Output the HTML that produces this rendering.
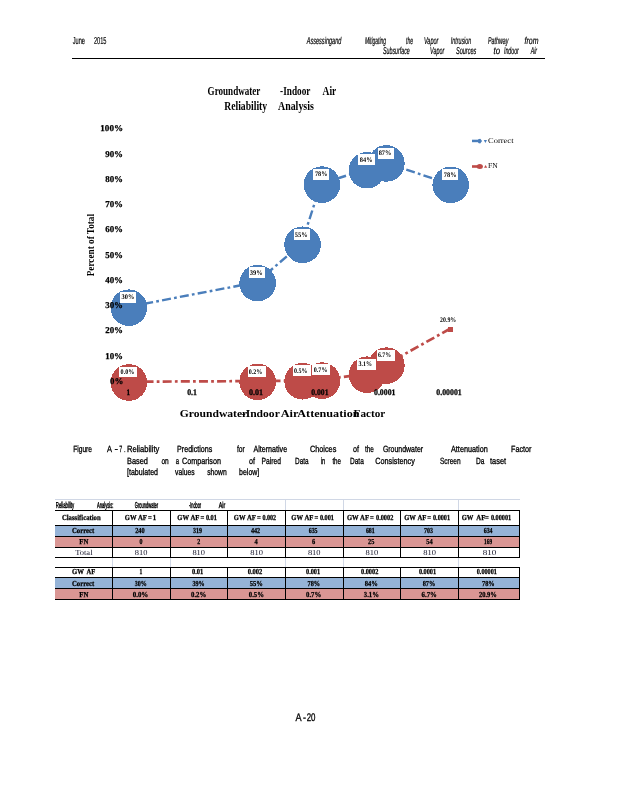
<!DOCTYPE html>
<html lang="en">
<head>
<meta charset="utf-8">
<title>A-20 Groundwater-Indoor Air Reliability Analysis</title>
<style>
html,body{margin:0;padding:0;background:#fff;}
body{width:618px;height:800px;overflow:hidden;}
svg{display:block;}
text{white-space:pre;}
.s,.si,.sb{text-rendering:geometricPrecision;}
.s{font-family:"Liberation Sans", sans-serif;}
.si{font-family:"Liberation Sans", sans-serif;font-style:italic;}
.sb{font-family:"Liberation Sans", sans-serif;font-weight:bold;}
.r{font-family:"Liberation Serif", serif;}
.rb{font-family:"Liberation Serif", serif;font-weight:bold;}
.ri{font-family:"Liberation Serif", serif;font-style:italic;}
</style>
</head>
<body>
<svg width="618" height="800" viewBox="0 0 618 800">
<rect x="0" y="0" width="618" height="800" fill="#fff"/>
<text class="s" x="72.8" y="44.3" font-size="10" textLength="12.2" lengthAdjust="spacingAndGlyphs" stroke="#000" stroke-width="0.2">June</text>
<text class="s" x="94.0" y="44.3" font-size="10" textLength="12.5" lengthAdjust="spacingAndGlyphs" stroke="#000" stroke-width="0.2">2015</text>
<text class="si" x="306.7" y="44.3" font-size="10" textLength="34.7" lengthAdjust="spacingAndGlyphs" stroke="#000" stroke-width="0.2">Assessingand</text>
<text class="si" x="364.9" y="44.3" font-size="10" textLength="21.2" lengthAdjust="spacingAndGlyphs" stroke="#000" stroke-width="0.2">Mitigating</text>
<text class="si" x="406.0" y="44.3" font-size="10" textLength="7.0" lengthAdjust="spacingAndGlyphs" stroke="#000" stroke-width="0.2">the</text>
<text class="si" x="423.9" y="44.3" font-size="10" textLength="14.5" lengthAdjust="spacingAndGlyphs" stroke="#000" stroke-width="0.2">Vapor</text>
<text class="si" x="450.8" y="44.3" font-size="10" textLength="20.3" lengthAdjust="spacingAndGlyphs" stroke="#000" stroke-width="0.2">Intrusion</text>
<text class="si" x="488.0" y="44.3" font-size="10" textLength="20.5" lengthAdjust="spacingAndGlyphs" stroke="#000" stroke-width="0.2">Pathway</text>
<text class="si" x="524.6" y="44.3" font-size="10" textLength="13.9" lengthAdjust="spacingAndGlyphs" stroke="#000" stroke-width="0.2">from</text>
<text class="si" x="383.0" y="53.9" font-size="10" textLength="26.8" lengthAdjust="spacingAndGlyphs" stroke="#000" stroke-width="0.2">Subsurface</text>
<text class="si" x="430.1" y="53.9" font-size="10" textLength="14.2" lengthAdjust="spacingAndGlyphs" stroke="#000" stroke-width="0.2">Vapor</text>
<text class="si" x="456.0" y="53.9" font-size="10" textLength="20.3" lengthAdjust="spacingAndGlyphs" stroke="#000" stroke-width="0.2">Sources</text>
<text class="si" x="493.5" y="53.9" font-size="10" textLength="6.5" lengthAdjust="spacingAndGlyphs" stroke="#000" stroke-width="0.2">to</text>
<text class="si" x="504.0" y="53.9" font-size="10" textLength="14.8" lengthAdjust="spacingAndGlyphs" stroke="#000" stroke-width="0.2">Indoor</text>
<text class="si" x="530.7" y="53.9" font-size="10" textLength="6.3" lengthAdjust="spacingAndGlyphs" stroke="#000" stroke-width="0.2">Air</text>
<rect x="72.0" y="58.00" width="473.0" height="1" fill="#000"/>
<text class="rb" x="207.6" y="94.6" font-size="11.5" textLength="52.8" lengthAdjust="spacingAndGlyphs">Groundwater</text>
<text class="rb" x="280.1" y="94.6" font-size="11.5" textLength="30.3" lengthAdjust="spacingAndGlyphs">-Indoor</text>
<text class="rb" x="322.6" y="94.6" font-size="11.5" textLength="13.7" lengthAdjust="spacingAndGlyphs">Air</text>
<text class="rb" x="224.2" y="109.7" font-size="11.5" textLength="43.0" lengthAdjust="spacingAndGlyphs">Reliability</text>
<text class="rb" x="278.0" y="109.7" font-size="11.5" textLength="35.8" lengthAdjust="spacingAndGlyphs">Analysis</text>
<polyline points="127.8,306.9 256.5,282.3 301.5,243.9 320.9,183.8 365.9,169.4 385.3,162.6 449.6,184.1" fill="none" stroke="#4a7ebb" stroke-width="2.4" stroke-dasharray="9 3.2 2.74 3.2" stroke-dashoffset="1.4"/>
<g shape-rendering="crispEdges">
<circle cx="128.85" cy="307.70" r="18.3" fill="#4a7ebb"/>
<circle cx="257.61" cy="283.07" r="18.3" fill="#4a7ebb"/>
<circle cx="302.61" cy="244.74" r="18.3" fill="#4a7ebb"/>
<circle cx="321.99" cy="184.58" r="18.3" fill="#4a7ebb"/>
<circle cx="366.99" cy="170.25" r="18.3" fill="#4a7ebb"/>
<circle cx="386.37" cy="163.39" r="18.3" fill="#4a7ebb"/>
<circle cx="450.75" cy="184.90" r="18.3" fill="#4a7ebb"/>
</g>
<polyline points="127.8,381.7 256.5,381.1 301.5,380.5 320.9,379.8 365.9,373.9 385.3,364.9 449.6,329.0" fill="none" stroke="#be4b48" stroke-width="2.7" stroke-dasharray="9 3.2 2.74 3.2" stroke-dashoffset="1.4"/>
<g shape-rendering="crispEdges">
<circle cx="128.85" cy="382.50" r="18.3" fill="#be4b48"/>
<circle cx="257.61" cy="381.88" r="18.3" fill="#be4b48"/>
<circle cx="302.61" cy="381.25" r="18.3" fill="#be4b48"/>
<circle cx="321.99" cy="380.63" r="18.3" fill="#be4b48"/>
<circle cx="366.99" cy="374.71" r="18.3" fill="#be4b48"/>
<circle cx="386.37" cy="365.67" r="18.3" fill="#be4b48"/>
<rect x="448" y="327" width="5" height="5" fill="#be4b48"/>
</g>
<text class="rb" x="100.3" y="130.9" font-size="9" textLength="22.7" lengthAdjust="spacingAndGlyphs" stroke="#000" stroke-width="0.25" text-rendering="geometricPrecision">100%</text>
<text class="rb" x="105.2" y="157.0" font-size="9" textLength="17.8" lengthAdjust="spacingAndGlyphs" stroke="#000" stroke-width="0.25" text-rendering="geometricPrecision">90%</text>
<text class="rb" x="105.2" y="182.0" font-size="9" textLength="17.8" lengthAdjust="spacingAndGlyphs" stroke="#000" stroke-width="0.25" text-rendering="geometricPrecision">80%</text>
<text class="rb" x="105.2" y="207.2" font-size="9" textLength="17.8" lengthAdjust="spacingAndGlyphs" stroke="#000" stroke-width="0.25" text-rendering="geometricPrecision">70%</text>
<text class="rb" x="105.2" y="232.0" font-size="9" textLength="17.8" lengthAdjust="spacingAndGlyphs" stroke="#000" stroke-width="0.25" text-rendering="geometricPrecision">60%</text>
<text class="rb" x="105.2" y="257.6" font-size="9" textLength="17.8" lengthAdjust="spacingAndGlyphs" stroke="#000" stroke-width="0.25" text-rendering="geometricPrecision">50%</text>
<text class="rb" x="105.2" y="282.6" font-size="9" textLength="17.8" lengthAdjust="spacingAndGlyphs" stroke="#000" stroke-width="0.25" text-rendering="geometricPrecision">40%</text>
<text class="rb" x="105.2" y="308.0" font-size="9" textLength="17.8" lengthAdjust="spacingAndGlyphs" stroke="#000" stroke-width="0.25" text-rendering="geometricPrecision">30%</text>
<text class="rb" x="105.2" y="333.0" font-size="9" textLength="17.8" lengthAdjust="spacingAndGlyphs" stroke="#000" stroke-width="0.25" text-rendering="geometricPrecision">20%</text>
<text class="rb" x="105.2" y="358.7" font-size="9" textLength="17.8" lengthAdjust="spacingAndGlyphs" stroke="#000" stroke-width="0.25" text-rendering="geometricPrecision">10%</text>
<text class="rb" x="110.1" y="384.0" font-size="9" textLength="13.3" lengthAdjust="spacingAndGlyphs" stroke="#000" stroke-width="0.25" text-rendering="geometricPrecision">0%</text>
<text class="rb" x="126.6" y="394.7" font-size="8.5" textLength="3.6" lengthAdjust="spacingAndGlyphs" stroke="#000" stroke-width="0.25" text-rendering="geometricPrecision">1</text>
<text class="rb" x="187.2" y="394.7" font-size="8.5" textLength="9.8" lengthAdjust="spacingAndGlyphs" stroke="#000" stroke-width="0.25" text-rendering="geometricPrecision">0.1</text>
<text class="rb" x="249.0" y="394.7" font-size="8.5" textLength="14.0" lengthAdjust="spacingAndGlyphs" stroke="#000" stroke-width="0.25" text-rendering="geometricPrecision">0.01</text>
<text class="rb" x="311.2" y="394.7" font-size="8.5" textLength="17.4" lengthAdjust="spacingAndGlyphs" stroke="#000" stroke-width="0.25" text-rendering="geometricPrecision">0.001</text>
<text class="rb" x="374.0" y="394.7" font-size="8.5" textLength="21.5" lengthAdjust="spacingAndGlyphs" stroke="#000" stroke-width="0.25" text-rendering="geometricPrecision">0.0001</text>
<text class="rb" x="436.3" y="394.7" font-size="8.5" textLength="25.4" lengthAdjust="spacingAndGlyphs" stroke="#000" stroke-width="0.25" text-rendering="geometricPrecision">0.00001</text>
<rect x="120.0" y="292.0" width="16.0" height="11.0" fill="#fff"/>
<text class="rb" x="121.6" y="299.0" font-size="7" textLength="12.7" lengthAdjust="spacingAndGlyphs" text-rendering="geometricPrecision">30%</text>
<rect x="249.0" y="267.0" width="16.0" height="11.0" fill="#fff"/>
<text class="rb" x="249.7" y="275.0" font-size="7" textLength="12.9" lengthAdjust="spacingAndGlyphs" text-rendering="geometricPrecision">39%</text>
<rect x="294.0" y="229.0" width="16.0" height="11.0" fill="#fff"/>
<text class="rb" x="294.7" y="236.8" font-size="7" textLength="12.9" lengthAdjust="spacingAndGlyphs" text-rendering="geometricPrecision">55%</text>
<rect x="313.0" y="169.0" width="16.0" height="11.0" fill="#fff"/>
<text class="rb" x="314.9" y="176.2" font-size="7" textLength="12.5" lengthAdjust="spacingAndGlyphs" text-rendering="geometricPrecision">78%</text>
<rect x="358.0" y="154.0" width="17.0" height="11.0" fill="#fff"/>
<text class="rb" x="359.8" y="161.8" font-size="7" textLength="12.7" lengthAdjust="spacingAndGlyphs" text-rendering="geometricPrecision">84%</text>
<rect x="378.0" y="148.0" width="16.0" height="11.0" fill="#fff"/>
<text class="rb" x="378.7" y="154.8" font-size="7" textLength="12.7" lengthAdjust="spacingAndGlyphs" text-rendering="geometricPrecision">87%</text>
<rect x="442.0" y="169.0" width="16.0" height="11.0" fill="#fff"/>
<text class="rb" x="443.8" y="176.8" font-size="7" textLength="12.7" lengthAdjust="spacingAndGlyphs" text-rendering="geometricPrecision">78%</text>
<rect x="119.0" y="367.0" width="18.0" height="10.0" fill="#fff"/>
<text class="rb" x="120.6" y="373.8" font-size="7" textLength="13.8" lengthAdjust="spacingAndGlyphs" text-rendering="geometricPrecision">0.0%</text>
<rect x="248.0" y="366.0" width="18.0" height="11.0" fill="#fff"/>
<text class="rb" x="248.8" y="374.1" font-size="7" textLength="13.6" lengthAdjust="spacingAndGlyphs" text-rendering="geometricPrecision">0.2%</text>
<rect x="293.0" y="365.0" width="18.0" height="11.0" fill="#fff"/>
<text class="rb" x="293.9" y="373.0" font-size="7" textLength="13.5" lengthAdjust="spacingAndGlyphs" text-rendering="geometricPrecision">0.5%</text>
<rect x="312.0" y="364.0" width="18.0" height="11.0" fill="#fff"/>
<text class="rb" x="313.8" y="372.0" font-size="7" textLength="13.7" lengthAdjust="spacingAndGlyphs" text-rendering="geometricPrecision">0.7%</text>
<rect x="357.0" y="359.0" width="19.0" height="11.0" fill="#fff"/>
<text class="rb" x="358.6" y="365.9" font-size="7" textLength="13.5" lengthAdjust="spacingAndGlyphs" text-rendering="geometricPrecision">3.1%</text>
<rect x="377.0" y="350.0" width="18.0" height="11.0" fill="#fff"/>
<text class="rb" x="378.0" y="357.1" font-size="7" textLength="13.1" lengthAdjust="spacingAndGlyphs" text-rendering="geometricPrecision">6.7%</text>
<text class="rb" x="440.1" y="322.0" font-size="7" textLength="16.1" lengthAdjust="spacingAndGlyphs" text-rendering="geometricPrecision">20.9%</text>
<rect x="472" y="139.7" width="9" height="2.5" fill="#4a7ebb"/>
<path d="M478.2 139.3 L480.2 138.8 L482.1 141 L480.2 143.5 L478.2 142.9 Z" fill="#4a7ebb"/>
<path d="M483.8 140 L487 140 L485.4 143 Z" fill="#4a7ebb"/>
<text class="r" x="488.1" y="143.0" font-size="7.6" textLength="25.4" lengthAdjust="spacingAndGlyphs" text-rendering="geometricPrecision">Correct</text>
<rect x="472" y="165.2" width="9" height="2.6" fill="#be4b48"/>
<ellipse cx="479.8" cy="166.5" rx="3.1" ry="2.5" fill="#be4b48"/>
<path d="M484 167.8 L487.2 167.8 L485.6 164.9 Z" fill="#be4b48"/>
<text class="r" x="488.1" y="167.9" font-size="7.6" textLength="9.6" lengthAdjust="spacingAndGlyphs" text-rendering="geometricPrecision">FN</text>
<text class="rb" font-size="11" transform="translate(94.3 276.3) rotate(-90)" textLength="62.3" lengthAdjust="spacingAndGlyphs">Percent of Total</text>
<text class="rb" x="179.7" y="416.5" font-size="11" textLength="67.6" lengthAdjust="spacingAndGlyphs">Groundwater</text>
<text class="rb" x="241.8" y="416.5" font-size="11" textLength="38.0" lengthAdjust="spacingAndGlyphs">-Indoor</text>
<text class="rb" x="280.7" y="416.5" font-size="11" textLength="17.8" lengthAdjust="spacingAndGlyphs">Air</text>
<text class="rb" x="297.3" y="416.5" font-size="11" textLength="62.2" lengthAdjust="spacingAndGlyphs">Attenuation</text>
<text class="rb" x="353.6" y="416.5" font-size="11" textLength="31.7" lengthAdjust="spacingAndGlyphs">Factor</text>
<text class="s" x="73.2" y="451.9" font-size="9" textLength="18.8" lengthAdjust="spacingAndGlyphs" stroke="#000" stroke-width="0.3">Figure</text>
<text class="s" x="107.1" y="451.9" font-size="9" textLength="5.0" lengthAdjust="spacingAndGlyphs" stroke="#000" stroke-width="0.3">A</text>
<text class="s" x="114.6" y="451.9" font-size="9" textLength="3.5" lengthAdjust="spacingAndGlyphs" stroke="#000" stroke-width="0.3">-</text>
<text class="s" x="119.2" y="451.9" font-size="9" textLength="3.0" lengthAdjust="spacingAndGlyphs" stroke="#000" stroke-width="0.3">7</text>
<text class="s" x="124.2" y="451.9" font-size="9" textLength="1.2" lengthAdjust="spacingAndGlyphs" stroke="#000" stroke-width="0.3">.</text>
<text class="s" x="127.0" y="451.9" font-size="9" textLength="32.3" lengthAdjust="spacingAndGlyphs" stroke="#000" stroke-width="0.3">Reliability</text>
<text class="s" x="177.1" y="451.9" font-size="9" textLength="35.1" lengthAdjust="spacingAndGlyphs" stroke="#000" stroke-width="0.3">Predictions</text>
<text class="s" x="237.0" y="451.9" font-size="9" textLength="7.8" lengthAdjust="spacingAndGlyphs" stroke="#000" stroke-width="0.3">for</text>
<text class="s" x="253.5" y="451.9" font-size="9" textLength="33.6" lengthAdjust="spacingAndGlyphs" stroke="#000" stroke-width="0.3">Alternative</text>
<text class="s" x="309.9" y="451.9" font-size="9" textLength="26.4" lengthAdjust="spacingAndGlyphs" stroke="#000" stroke-width="0.3">Choices</text>
<text class="s" x="353.1" y="451.9" font-size="9" textLength="6.0" lengthAdjust="spacingAndGlyphs" stroke="#000" stroke-width="0.3">of</text>
<text class="s" x="365.0" y="451.9" font-size="9" textLength="8.9" lengthAdjust="spacingAndGlyphs" stroke="#000" stroke-width="0.3">the</text>
<text class="s" x="382.9" y="451.9" font-size="9" textLength="40.2" lengthAdjust="spacingAndGlyphs" stroke="#000" stroke-width="0.3">Groundwater</text>
<text class="s" x="451.0" y="451.9" font-size="9" textLength="36.8" lengthAdjust="spacingAndGlyphs" stroke="#000" stroke-width="0.3">Attenuation</text>
<text class="s" x="511.1" y="451.9" font-size="9" textLength="20.4" lengthAdjust="spacingAndGlyphs" stroke="#000" stroke-width="0.3">Factor</text>
<text class="s" x="127.0" y="463.6" font-size="9" textLength="21.0" lengthAdjust="spacingAndGlyphs" stroke="#000" stroke-width="0.3">Based</text>
<text class="s" x="161.4" y="463.6" font-size="9" textLength="7.3" lengthAdjust="spacingAndGlyphs" stroke="#000" stroke-width="0.3">on</text>
<text class="s" x="175.7" y="463.6" font-size="9" textLength="3.3" lengthAdjust="spacingAndGlyphs" stroke="#000" stroke-width="0.3">a</text>
<text class="s" x="182.1" y="463.6" font-size="9" textLength="38.9" lengthAdjust="spacingAndGlyphs" stroke="#000" stroke-width="0.3">Comparison</text>
<text class="s" x="249.1" y="463.6" font-size="9" textLength="6.0" lengthAdjust="spacingAndGlyphs" stroke="#000" stroke-width="0.3">of</text>
<text class="s" x="261.5" y="463.6" font-size="9" textLength="19.4" lengthAdjust="spacingAndGlyphs" stroke="#000" stroke-width="0.3">Paired</text>
<text class="s" x="295.1" y="463.6" font-size="9" textLength="13.5" lengthAdjust="spacingAndGlyphs" stroke="#000" stroke-width="0.3">Data</text>
<text class="s" x="320.8" y="463.6" font-size="9" textLength="4.6" lengthAdjust="spacingAndGlyphs" stroke="#000" stroke-width="0.3">in</text>
<text class="s" x="332.4" y="463.6" font-size="9" textLength="8.6" lengthAdjust="spacingAndGlyphs" stroke="#000" stroke-width="0.3">the</text>
<text class="s" x="350.0" y="463.6" font-size="9" textLength="13.8" lengthAdjust="spacingAndGlyphs" stroke="#000" stroke-width="0.3">Data</text>
<text class="s" x="375.2" y="463.6" font-size="9" textLength="39.6" lengthAdjust="spacingAndGlyphs" stroke="#000" stroke-width="0.3">Consistency</text>
<text class="s" x="439.9" y="463.6" font-size="9" textLength="20.7" lengthAdjust="spacingAndGlyphs" stroke="#000" stroke-width="0.3">Screen</text>
<text class="s" x="475.9" y="463.6" font-size="9" textLength="8.4" lengthAdjust="spacingAndGlyphs" stroke="#000" stroke-width="0.3">Da</text>
<text class="s" x="490.0" y="463.6" font-size="9" textLength="16.1" lengthAdjust="spacingAndGlyphs" stroke="#000" stroke-width="0.3">taset</text>
<text class="s" x="127.0" y="475.0" font-size="9" textLength="31.0" lengthAdjust="spacingAndGlyphs" stroke="#000" stroke-width="0.3">[tabulated</text>
<text class="s" x="175.1" y="475.0" font-size="9" textLength="19.5" lengthAdjust="spacingAndGlyphs" stroke="#000" stroke-width="0.3">values</text>
<text class="s" x="207.2" y="475.0" font-size="9" textLength="19.5" lengthAdjust="spacingAndGlyphs" stroke="#000" stroke-width="0.3">shown</text>
<text class="s" x="239.1" y="475.0" font-size="9" textLength="20.2" lengthAdjust="spacingAndGlyphs" stroke="#000" stroke-width="0.3">below]</text>
<rect x="55.0" y="525.5" width="464.5" height="11.0" fill="#95b3d7"/>
<rect x="55.0" y="536.5" width="464.5" height="11.0" fill="#da9694"/>
<rect x="55.0" y="577.5" width="464.5" height="11.0" fill="#95b3d7"/>
<rect x="55.0" y="588.5" width="464.5" height="11.0" fill="#da9694"/>
<rect x="55.0" y="499.00" width="465.0" height="1" fill="#d0d7e5"/>
<rect x="285.00" y="499.0" width="1" height="11.5" fill="#d0d7e5"/>
<rect x="343.00" y="499.0" width="1" height="11.5" fill="#d0d7e5"/>
<rect x="458.00" y="499.0" width="1" height="11.5" fill="#d0d7e5"/>
<rect x="112.00" y="557.5" width="1" height="10.0" fill="#d0d7e5"/>
<rect x="170.00" y="557.5" width="1" height="10.0" fill="#d0d7e5"/>
<rect x="285.00" y="557.5" width="1" height="10.0" fill="#d0d7e5"/>
<rect x="343.00" y="557.5" width="1" height="10.0" fill="#d0d7e5"/>
<rect x="458.00" y="557.5" width="1" height="10.0" fill="#d0d7e5"/>
<rect x="55.0" y="510.00" width="465.0" height="1" fill="#000"/>
<rect x="55.0" y="525.00" width="465.0" height="1" fill="#000"/>
<rect x="55.0" y="536.00" width="465.0" height="1" fill="#000"/>
<rect x="55.0" y="547.00" width="465.0" height="1" fill="#000"/>
<rect x="55.0" y="557.00" width="465.0" height="1" fill="#000"/>
<rect x="55.0" y="567.00" width="465.0" height="1" fill="#000"/>
<rect x="55.0" y="577.00" width="465.0" height="1" fill="#000"/>
<rect x="55.0" y="588.00" width="465.0" height="1" fill="#000"/>
<rect x="55.0" y="599.00" width="465.0" height="1" fill="#000"/>
<rect x="112.00" y="510.0" width="1" height="48.0" fill="#000"/>
<rect x="112.00" y="567.0" width="1" height="33.0" fill="#000"/>
<rect x="170.00" y="510.0" width="1" height="48.0" fill="#000"/>
<rect x="170.00" y="567.0" width="1" height="33.0" fill="#000"/>
<rect x="227.00" y="510.0" width="1" height="48.0" fill="#000"/>
<rect x="227.00" y="567.0" width="1" height="33.0" fill="#000"/>
<rect x="285.00" y="510.0" width="1" height="48.0" fill="#000"/>
<rect x="285.00" y="567.0" width="1" height="33.0" fill="#000"/>
<rect x="343.00" y="510.0" width="1" height="48.0" fill="#000"/>
<rect x="343.00" y="567.0" width="1" height="33.0" fill="#000"/>
<rect x="400.00" y="510.0" width="1" height="48.0" fill="#000"/>
<rect x="400.00" y="567.0" width="1" height="33.0" fill="#000"/>
<rect x="458.00" y="510.0" width="1" height="48.0" fill="#000"/>
<rect x="458.00" y="567.0" width="1" height="33.0" fill="#000"/>
<rect x="519.00" y="510.0" width="1" height="48.0" fill="#000"/>
<rect x="519.00" y="567.0" width="1" height="33.0" fill="#000"/>
<text class="s" x="55.8" y="507.9" font-size="8.5" textLength="18.4" lengthAdjust="spacingAndGlyphs" stroke="#000" stroke-width="0.45">Reliability</text>
<text class="s" x="96.9" y="507.9" font-size="8.5" textLength="16.5" lengthAdjust="spacingAndGlyphs" stroke="#000" stroke-width="0.45">Analysis:</text>
<text class="s" x="134.8" y="507.9" font-size="8.5" textLength="23.4" lengthAdjust="spacingAndGlyphs" stroke="#000" stroke-width="0.45">Groundwater</text>
<text class="s" x="188.9" y="507.9" font-size="8.5" textLength="12.2" lengthAdjust="spacingAndGlyphs" stroke="#000" stroke-width="0.45">-Indoor</text>
<text class="s" x="218.8" y="507.9" font-size="8.5" textLength="6.5" lengthAdjust="spacingAndGlyphs" stroke="#000" stroke-width="0.45">Air</text>
<text class="rb" x="61.9" y="519.7" font-size="7.6" textLength="38.8" lengthAdjust="spacingAndGlyphs" stroke="#000" stroke-width="0.25" text-rendering="geometricPrecision">Classification</text>
<text class="rb" x="124.8" y="519.7" font-size="7.6" textLength="11.7" lengthAdjust="spacingAndGlyphs" stroke="#000" stroke-width="0.25" text-rendering="geometricPrecision">GW</text>
<text class="rb" x="138.0" y="519.7" font-size="7.6" textLength="9.0" lengthAdjust="spacingAndGlyphs" stroke="#000" stroke-width="0.25" text-rendering="geometricPrecision">AF</text>
<text class="rb" x="147.9" y="519.7" font-size="7.6" textLength="3.8" lengthAdjust="spacingAndGlyphs" stroke="#000" stroke-width="0.25" text-rendering="geometricPrecision">=</text>
<text class="rb" x="152.8" y="519.7" font-size="7.6" textLength="3.4" lengthAdjust="spacingAndGlyphs" stroke="#000" stroke-width="0.25" text-rendering="geometricPrecision">1</text>
<text class="rb" x="177.3" y="519.7" font-size="7.6" textLength="11.7" lengthAdjust="spacingAndGlyphs" stroke="#000" stroke-width="0.25" text-rendering="geometricPrecision">GW</text>
<text class="rb" x="190.5" y="519.7" font-size="7.6" textLength="9.0" lengthAdjust="spacingAndGlyphs" stroke="#000" stroke-width="0.25" text-rendering="geometricPrecision">AF</text>
<text class="rb" x="200.4" y="519.7" font-size="7.6" textLength="3.8" lengthAdjust="spacingAndGlyphs" stroke="#000" stroke-width="0.25" text-rendering="geometricPrecision">=</text>
<text class="rb" x="205.9" y="519.7" font-size="7.6" textLength="11.0" lengthAdjust="spacingAndGlyphs" stroke="#000" stroke-width="0.25" text-rendering="geometricPrecision">0.01</text>
<text class="rb" x="233.8" y="519.7" font-size="7.6" textLength="11.7" lengthAdjust="spacingAndGlyphs" stroke="#000" stroke-width="0.25" text-rendering="geometricPrecision">GW</text>
<text class="rb" x="247.0" y="519.7" font-size="7.6" textLength="9.0" lengthAdjust="spacingAndGlyphs" stroke="#000" stroke-width="0.25" text-rendering="geometricPrecision">AF</text>
<text class="rb" x="256.9" y="519.7" font-size="7.6" textLength="3.8" lengthAdjust="spacingAndGlyphs" stroke="#000" stroke-width="0.25" text-rendering="geometricPrecision">=</text>
<text class="rb" x="262.4" y="519.7" font-size="7.6" textLength="13.7" lengthAdjust="spacingAndGlyphs" stroke="#000" stroke-width="0.25" text-rendering="geometricPrecision">0.002</text>
<text class="rb" x="291.3" y="519.7" font-size="7.6" textLength="11.7" lengthAdjust="spacingAndGlyphs" stroke="#000" stroke-width="0.25" text-rendering="geometricPrecision">GW</text>
<text class="rb" x="304.5" y="519.7" font-size="7.6" textLength="9.0" lengthAdjust="spacingAndGlyphs" stroke="#000" stroke-width="0.25" text-rendering="geometricPrecision">AF</text>
<text class="rb" x="314.4" y="519.7" font-size="7.6" textLength="3.8" lengthAdjust="spacingAndGlyphs" stroke="#000" stroke-width="0.25" text-rendering="geometricPrecision">=</text>
<text class="rb" x="319.9" y="519.7" font-size="7.6" textLength="14.1" lengthAdjust="spacingAndGlyphs" stroke="#000" stroke-width="0.25" text-rendering="geometricPrecision">0.001</text>
<text class="rb" x="346.9" y="519.7" font-size="7.6" textLength="11.7" lengthAdjust="spacingAndGlyphs" stroke="#000" stroke-width="0.25" text-rendering="geometricPrecision">GW</text>
<text class="rb" x="360.1" y="519.7" font-size="7.6" textLength="9.0" lengthAdjust="spacingAndGlyphs" stroke="#000" stroke-width="0.25" text-rendering="geometricPrecision">AF</text>
<text class="rb" x="370.0" y="519.7" font-size="7.6" textLength="3.8" lengthAdjust="spacingAndGlyphs" stroke="#000" stroke-width="0.25" text-rendering="geometricPrecision">=</text>
<text class="rb" x="376.0" y="519.7" font-size="7.6" textLength="17.3" lengthAdjust="spacingAndGlyphs" stroke="#000" stroke-width="0.25" text-rendering="geometricPrecision">0.0002</text>
<text class="rb" x="404.2" y="519.7" font-size="7.6" textLength="11.7" lengthAdjust="spacingAndGlyphs" stroke="#000" stroke-width="0.25" text-rendering="geometricPrecision">GW</text>
<text class="rb" x="417.4" y="519.7" font-size="7.6" textLength="9.0" lengthAdjust="spacingAndGlyphs" stroke="#000" stroke-width="0.25" text-rendering="geometricPrecision">AF</text>
<text class="rb" x="427.3" y="519.7" font-size="7.6" textLength="3.8" lengthAdjust="spacingAndGlyphs" stroke="#000" stroke-width="0.25" text-rendering="geometricPrecision">=</text>
<text class="rb" x="433.0" y="519.7" font-size="7.6" textLength="17.0" lengthAdjust="spacingAndGlyphs" stroke="#000" stroke-width="0.25" text-rendering="geometricPrecision">0.0001</text>
<text class="rb" x="461.7" y="519.7" font-size="7.6" textLength="11.7" lengthAdjust="spacingAndGlyphs" stroke="#000" stroke-width="0.25" text-rendering="geometricPrecision">GW</text>
<text class="rb" x="476.3" y="519.7" font-size="7.6" textLength="9.0" lengthAdjust="spacingAndGlyphs" stroke="#000" stroke-width="0.25" text-rendering="geometricPrecision">AF</text>
<text class="rb" x="485.0" y="519.7" font-size="7.6" textLength="3.8" lengthAdjust="spacingAndGlyphs" stroke="#000" stroke-width="0.25" text-rendering="geometricPrecision">=</text>
<text class="rb" x="490.9" y="519.7" font-size="7.6" textLength="20.3" lengthAdjust="spacingAndGlyphs" stroke="#000" stroke-width="0.25" text-rendering="geometricPrecision">0.00001</text>
<text class="rb" x="72.0" y="532.8" font-size="7.6" textLength="22.3" lengthAdjust="spacingAndGlyphs" stroke="#000" stroke-width="0.25" text-rendering="geometricPrecision">Correct</text>
<text class="rb" x="135.2" y="532.8" font-size="7.6" textLength="9.5" lengthAdjust="spacingAndGlyphs" stroke="#000" stroke-width="0.25" text-rendering="geometricPrecision">240</text>
<text class="rb" x="193.1" y="532.8" font-size="7.6" textLength="9.0" lengthAdjust="spacingAndGlyphs" stroke="#000" stroke-width="0.25" text-rendering="geometricPrecision">319</text>
<text class="rb" x="250.9" y="532.8" font-size="7.6" textLength="9.2" lengthAdjust="spacingAndGlyphs" stroke="#000" stroke-width="0.25" text-rendering="geometricPrecision">442</text>
<text class="rb" x="308.7" y="532.8" font-size="7.6" textLength="8.9" lengthAdjust="spacingAndGlyphs" stroke="#000" stroke-width="0.25" text-rendering="geometricPrecision">635</text>
<text class="rb" x="365.9" y="532.8" font-size="7.6" textLength="8.8" lengthAdjust="spacingAndGlyphs" stroke="#000" stroke-width="0.25" text-rendering="geometricPrecision">681</text>
<text class="rb" x="424.1" y="532.8" font-size="7.6" textLength="8.9" lengthAdjust="spacingAndGlyphs" stroke="#000" stroke-width="0.25" text-rendering="geometricPrecision">703</text>
<text class="rb" x="483.7" y="532.8" font-size="7.6" textLength="8.9" lengthAdjust="spacingAndGlyphs" stroke="#000" stroke-width="0.25" text-rendering="geometricPrecision">634</text>
<text class="rb" x="79.3" y="543.8" font-size="7.6" textLength="9.1" lengthAdjust="spacingAndGlyphs" stroke="#000" stroke-width="0.25" text-rendering="geometricPrecision">FN</text>
<text class="rb" x="139.6" y="543.8" font-size="7.6" textLength="3.0" lengthAdjust="spacingAndGlyphs" stroke="#000" stroke-width="0.25" text-rendering="geometricPrecision">0</text>
<text class="rb" x="197.3" y="543.8" font-size="7.6" textLength="3.0" lengthAdjust="spacingAndGlyphs" stroke="#000" stroke-width="0.25" text-rendering="geometricPrecision">2</text>
<text class="rb" x="254.4" y="543.8" font-size="7.6" textLength="3.2" lengthAdjust="spacingAndGlyphs" stroke="#000" stroke-width="0.25" text-rendering="geometricPrecision">4</text>
<text class="rb" x="311.9" y="543.8" font-size="7.6" textLength="3.2" lengthAdjust="spacingAndGlyphs" stroke="#000" stroke-width="0.25" text-rendering="geometricPrecision">6</text>
<text class="rb" x="368.0" y="543.8" font-size="7.6" textLength="6.3" lengthAdjust="spacingAndGlyphs" stroke="#000" stroke-width="0.25" text-rendering="geometricPrecision">25</text>
<text class="rb" x="426.2" y="543.8" font-size="7.6" textLength="6.4" lengthAdjust="spacingAndGlyphs" stroke="#000" stroke-width="0.25" text-rendering="geometricPrecision">54</text>
<text class="rb" x="484.1" y="543.8" font-size="7.6" textLength="8.0" lengthAdjust="spacingAndGlyphs" stroke="#000" stroke-width="0.25" text-rendering="geometricPrecision">169</text>
<text class="r" x="75.2" y="554.6" font-size="7.7" textLength="17.3" lengthAdjust="spacingAndGlyphs" fill="#15152a" text-rendering="geometricPrecision">Total</text>
<text class="r" x="134.8" y="554.6" font-size="7.7" textLength="12.6" lengthAdjust="spacingAndGlyphs" fill="#15152a" text-rendering="geometricPrecision">810</text>
<text class="r" x="192.4" y="554.6" font-size="7.7" textLength="12.6" lengthAdjust="spacingAndGlyphs" fill="#15152a" text-rendering="geometricPrecision">810</text>
<text class="r" x="250.2" y="554.6" font-size="7.7" textLength="12.7" lengthAdjust="spacingAndGlyphs" fill="#15152a" text-rendering="geometricPrecision">810</text>
<text class="r" x="307.9" y="554.6" font-size="7.7" textLength="12.7" lengthAdjust="spacingAndGlyphs" fill="#15152a" text-rendering="geometricPrecision">810</text>
<text class="r" x="365.5" y="554.6" font-size="7.7" textLength="12.7" lengthAdjust="spacingAndGlyphs" fill="#15152a" text-rendering="geometricPrecision">810</text>
<text class="r" x="423.3" y="554.6" font-size="7.7" textLength="12.7" lengthAdjust="spacingAndGlyphs" fill="#15152a" text-rendering="geometricPrecision">810</text>
<text class="r" x="482.7" y="554.6" font-size="7.7" textLength="13.6" lengthAdjust="spacingAndGlyphs" fill="#15152a" text-rendering="geometricPrecision">810</text>
<text class="rb" x="72.0" y="573.9" font-size="7.6" textLength="11.9" lengthAdjust="spacingAndGlyphs" stroke="#000" stroke-width="0.25" text-rendering="geometricPrecision">GW</text>
<text class="rb" x="86.4" y="573.9" font-size="7.6" textLength="8.8" lengthAdjust="spacingAndGlyphs" stroke="#000" stroke-width="0.25" text-rendering="geometricPrecision">AF</text>
<text class="rb" x="139.5" y="573.9" font-size="7.6" textLength="2.8" lengthAdjust="spacingAndGlyphs" stroke="#000" stroke-width="0.25" text-rendering="geometricPrecision">1</text>
<text class="rb" x="192.0" y="573.9" font-size="7.6" textLength="11.2" lengthAdjust="spacingAndGlyphs" stroke="#000" stroke-width="0.25" text-rendering="geometricPrecision">0.01</text>
<text class="rb" x="247.7" y="573.9" font-size="7.6" textLength="14.7" lengthAdjust="spacingAndGlyphs" stroke="#000" stroke-width="0.25" text-rendering="geometricPrecision">0.002</text>
<text class="rb" x="306.0" y="573.9" font-size="7.6" textLength="14.1" lengthAdjust="spacingAndGlyphs" stroke="#000" stroke-width="0.25" text-rendering="geometricPrecision">0.001</text>
<text class="rb" x="361.0" y="573.9" font-size="7.6" textLength="17.3" lengthAdjust="spacingAndGlyphs" stroke="#000" stroke-width="0.25" text-rendering="geometricPrecision">0.0002</text>
<text class="rb" x="418.9" y="573.9" font-size="7.6" textLength="17.2" lengthAdjust="spacingAndGlyphs" stroke="#000" stroke-width="0.25" text-rendering="geometricPrecision">0.0001</text>
<text class="rb" x="476.8" y="573.9" font-size="7.6" textLength="20.0" lengthAdjust="spacingAndGlyphs" stroke="#000" stroke-width="0.25" text-rendering="geometricPrecision">0.00001</text>
<text class="rb" x="72.0" y="585.7" font-size="7.6" textLength="22.3" lengthAdjust="spacingAndGlyphs" stroke="#000" stroke-width="0.25" text-rendering="geometricPrecision">Correct</text>
<text class="rb" x="134.8" y="585.7" font-size="7.6" textLength="12.0" lengthAdjust="spacingAndGlyphs" stroke="#000" stroke-width="0.25" text-rendering="geometricPrecision">30%</text>
<text class="rb" x="192.5" y="585.7" font-size="7.6" textLength="12.2" lengthAdjust="spacingAndGlyphs" stroke="#000" stroke-width="0.25" text-rendering="geometricPrecision">39%</text>
<text class="rb" x="249.8" y="585.7" font-size="7.6" textLength="13.1" lengthAdjust="spacingAndGlyphs" stroke="#000" stroke-width="0.25" text-rendering="geometricPrecision">55%</text>
<text class="rb" x="307.5" y="585.7" font-size="7.6" textLength="12.5" lengthAdjust="spacingAndGlyphs" stroke="#000" stroke-width="0.25" text-rendering="geometricPrecision">78%</text>
<text class="rb" x="364.8" y="585.7" font-size="7.6" textLength="13.1" lengthAdjust="spacingAndGlyphs" stroke="#000" stroke-width="0.25" text-rendering="geometricPrecision">84%</text>
<text class="rb" x="422.7" y="585.7" font-size="7.6" textLength="12.6" lengthAdjust="spacingAndGlyphs" stroke="#000" stroke-width="0.25" text-rendering="geometricPrecision">87%</text>
<text class="rb" x="482.0" y="585.7" font-size="7.6" textLength="12.7" lengthAdjust="spacingAndGlyphs" stroke="#000" stroke-width="0.25" text-rendering="geometricPrecision">78%</text>
<text class="rb" x="79.3" y="596.8" font-size="7.6" textLength="9.1" lengthAdjust="spacingAndGlyphs" stroke="#000" stroke-width="0.25" text-rendering="geometricPrecision">FN</text>
<text class="rb" x="132.7" y="596.8" font-size="7.6" textLength="15.6" lengthAdjust="spacingAndGlyphs" stroke="#000" stroke-width="0.25" text-rendering="geometricPrecision">0.0%</text>
<text class="rb" x="191.0" y="596.8" font-size="7.6" textLength="15.3" lengthAdjust="spacingAndGlyphs" stroke="#000" stroke-width="0.25" text-rendering="geometricPrecision">0.2%</text>
<text class="rb" x="248.8" y="596.8" font-size="7.6" textLength="15.1" lengthAdjust="spacingAndGlyphs" stroke="#000" stroke-width="0.25" text-rendering="geometricPrecision">0.5%</text>
<text class="rb" x="306.0" y="596.8" font-size="7.6" textLength="15.3" lengthAdjust="spacingAndGlyphs" stroke="#000" stroke-width="0.25" text-rendering="geometricPrecision">0.7%</text>
<text class="rb" x="363.8" y="596.8" font-size="7.6" textLength="15.1" lengthAdjust="spacingAndGlyphs" stroke="#000" stroke-width="0.25" text-rendering="geometricPrecision">3.1%</text>
<text class="rb" x="421.6" y="596.8" font-size="7.6" textLength="15.2" lengthAdjust="spacingAndGlyphs" stroke="#000" stroke-width="0.25" text-rendering="geometricPrecision">6.7%</text>
<text class="rb" x="478.9" y="596.8" font-size="7.6" textLength="17.9" lengthAdjust="spacingAndGlyphs" stroke="#000" stroke-width="0.25" text-rendering="geometricPrecision">20.9%</text>
<text class="s" x="295.6" y="720.7" font-size="11" textLength="6.1" lengthAdjust="spacingAndGlyphs" stroke="#000" stroke-width="0.3">A</text>
<text class="s" x="303.0" y="720.7" font-size="11" textLength="3.0" lengthAdjust="spacingAndGlyphs" stroke="#000" stroke-width="0.3">-</text>
<text class="s" x="306.7" y="720.7" font-size="11" textLength="8.8" lengthAdjust="spacingAndGlyphs" stroke="#000" stroke-width="0.3">20</text>
</svg>
</body>
</html>
